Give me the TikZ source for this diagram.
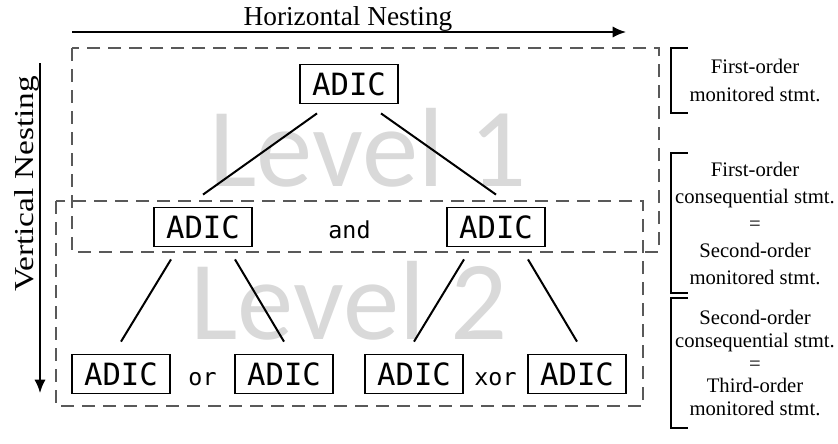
\documentclass[tikz,border=0pt]{standalone}
\usepackage{fontspec}
\setmainfont{Liberation Serif}
\newfontfamily\adicfont{DejaVu Sans Mono}
\newfontfamily\levelfont{Carlito}
\usetikzlibrary{arrows.meta, positioning, calc}
\definecolor{ink}{HTML}{000000}
\definecolor{dashgray}{HTML}{595959}
\definecolor{watermark}{HTML}{D9D9D9}

\begin{document}
\begin{tikzpicture}[
  x=0.75pt, y=-0.75pt,
  adic/.style={draw=ink, line width=1.1pt, rectangle, minimum width=73.5pt,
               minimum height=29.5pt, inner sep=0pt,
               font=\adicfont\fontsize{23}{23}\selectfont},
  conn/.style={inner sep=0pt, font=\adicfont\fontsize{17.5}{17.5}\selectfont},
  level/.style={text=watermark, inner sep=0pt,
                font=\levelfont\fontsize{84.5}{84.5}\selectfont},
  nest/.style={draw=dashgray, line width=1.1pt, dash pattern=on 9.75pt off 6pt},
  edge/.style={draw=ink, line width=1.5pt},
  axis/.style={draw=ink, line width=1.5pt, ->},
  note/.style={align=center, inner sep=0pt, minimum width=126pt},
  brk/.style={draw=ink, line width=1.2pt},
  >={Latex[length=10pt,width=8.5pt]}
]
\useasboundingbox (0,0) rectangle (838,443);

% watermarks
\node[level, anchor=base west] (lvl1) at (209,186) {Level 1};
\node[level, anchor=base west] (lvl2) at (190,339) {Level 2};

% nesting frames
\draw[nest] (72,48) rectangle (659,252);
\draw[nest] (56,201) rectangle (643,406);

% axes
\coordinate (hstart) at (72,32);
\coordinate (hend)   at (626,32);
\coordinate (vstart) at (40,63);
\coordinate (vend)   at (40,393);
\draw[axis] (hstart) -- (hend);
\draw[axis] (vstart) -- (vend);
\node[anchor=base, font=\fontsize{20.5}{20.5}\selectfont] (hlabel) at (348,25) {Horizontal Nesting};
\node[anchor=base, rotate=90, xscale=1.22, font=\fontsize{20.5}{20.5}\selectfont] (vlabel) at (33,184) {Vertical Nesting};

% tree
\node[adic] (top) at (349,84)  {ADIC};
\node[adic] (l2a) at (203,227) {ADIC};
\node[adic] (l2b) at (496,227) {ADIC};
\node[adic] (l3a) at (121,374) {ADIC};
\node[adic] (l3b) at (284,374) {ADIC};
\node[adic] (l3c) at (414,374) {ADIC};
\node[adic] (l3d) at (577,374) {ADIC};

\node[conn, anchor=base] (and) at ($(l2a.base)!0.5!(l2b.base)$) {and};
\node[conn, anchor=base] (or)  at ($(l3a.base)!0.5!(l3b.base)$) {or};
\node[conn, anchor=base] (xor) at ($(l3c.base)!0.5!(l3d.base)$) {xor};

\draw[edge] ([xshift=-24pt,yshift=-6.75pt]top.south) -- ([yshift=9pt]l2a.north);
\draw[edge] ([xshift=24pt,yshift=-6.75pt]top.south)  -- ([yshift=9pt]l2b.north);
\draw[edge] ([xshift=-24pt,yshift=-9pt]l2a.south) -- ([yshift=9pt]l3a.north);
\draw[edge] ([xshift=24pt,yshift=-9pt]l2a.south)  -- ([yshift=9pt]l3b.north);
\draw[edge] ([xshift=-24pt,yshift=-9pt]l2b.south) -- ([yshift=9pt]l3c.north);
\draw[edge] ([xshift=24pt,yshift=-9pt]l2b.south)  -- ([yshift=9pt]l3d.north);

% order notes
\node[note, minimum height=48.75pt, font=\fontsize{15.5}{21}\selectfont] (n1) at (755,80.5)
  {First-order\\monitored stmt.};
\node[note, minimum height=105pt, font=\fontsize{15.5}{20.25}\selectfont] (n2) at (755,223)
  {First-order\\consequential stmt.\\=\\Second-order\\monitored stmt.};
\node[note, minimum height=97.5pt, font=\fontsize{15.5}{17}\selectfont] (n3) at (755,363)
  {Second-order\\consequential stmt.\\=\\Third-order\\monitored stmt.};

\draw[brk] ([xshift=12.75pt]n1.north west) -- (n1.north west) -- (n1.south west) -- ++(12.75pt,0);
\draw[brk] ([xshift=12.75pt]n2.north west) -- (n2.north west) -- (n2.south west) -- ++(12.75pt,0);
\draw[brk] ([xshift=12.75pt]n3.north west) -- (n3.north west) -- (n3.south west) -- ++(12.75pt,0);
\end{tikzpicture}
\end{document}
